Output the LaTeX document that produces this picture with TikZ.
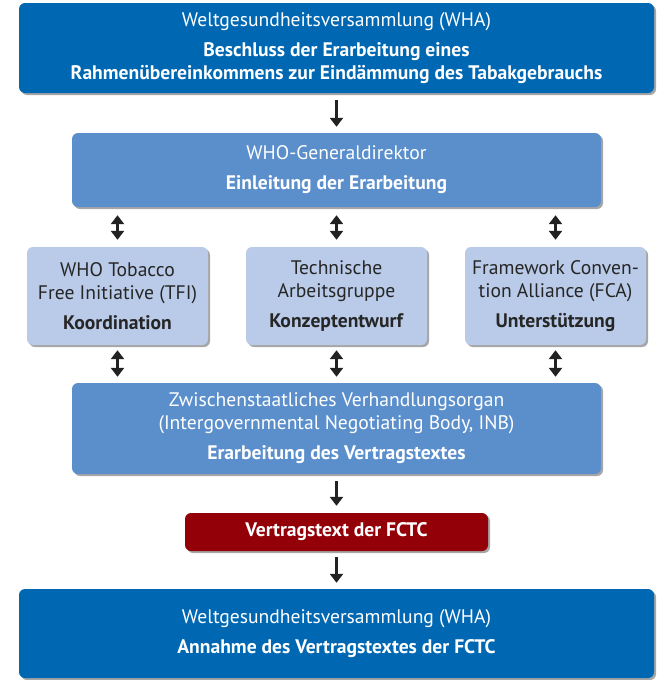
\documentclass[tikz,border=0pt]{standalone}
\usepackage{fontspec}
\setmainfont{PT Sans}
\usetikzlibrary{arrows.meta, shadows}

\definecolor{whablue}{RGB}{0,104,179}
\definecolor{midblue}{RGB}{91,143,204}
\definecolor{paleblue}{RGB}{185,203,232}
\definecolor{fctcred}{RGB}{148,0,8}
\definecolor{arrowgray}{RGB}{34,34,34}

\begin{document}
\begin{tikzpicture}[x=1pt, y=-1pt, >={Triangle[width=13pt,length=9pt]},
  box/.style={rounded corners=6pt, align=center, inner sep=0pt,
    font=\fontsize{19.6}{23}\selectfont,
    drop shadow={shadow xshift=2pt, shadow yshift=-2pt, opacity=0.35, fill=black}},
  darkbox/.style={box, fill=whablue, text=white},
  midbox/.style={box, fill=midblue, text=white},
  palebox/.style={box, fill=paleblue, text=black!85},
  redbox/.style={box, fill=fctcred, text=white},
  flow/.style={->, line width=3.5pt, draw=arrowgray},
  both/.style={<->, line width=3.5pt, draw=arrowgray}]
  \useasboundingbox (0,0) rectangle (665,680);
  % boxes, top to bottom
  \node[darkbox, minimum width=635pt, minimum height=90pt] (wha) at (336.5,48)
    {Weltgesundheitsversammlung (WHA)\\[7pt]
     \textbf{Beschluss der Erarbeitung eines}\\
     \textbf{Rahmenübereinkommens zur Eindämmung des Tabakgebrauchs}};
  \node[midbox, minimum width=529pt, minimum height=74pt] (gd) at (336.5,170)
    {WHO-Generaldirektor\\[7pt] \textbf{Einleitung der Erarbeitung}};
  \node[palebox, minimum width=181pt, minimum height=98pt] (tfi) at (117.5,296)
    {WHO Tobacco\\ Free Initiative (TFI)\\[7pt] \textbf{Koordination}};
  \node[palebox, minimum width=181pt, minimum height=98pt] (tag) at (336.5,296)
    {Technische\\ Arbeitsgruppe\\[7pt] \textbf{Konzeptentwurf}};
  \node[palebox, minimum width=181pt, minimum height=98pt] (fca) at (555.5,296)
    {Framework Conven-\\ tion Alliance (FCA)\\[7pt] \textbf{Unterstützung}};
  \node[midbox, minimum width=529pt, minimum height=91pt] (inb) at (336.5,428.5)
    {Zwischenstaatliches Verhandlungsorgan\\
     (Intergovernmental Negotiating Body, INB)\\[7pt]
     \textbf{Erarbeitung des Vertragstextes}};
  \node[redbox, minimum width=303pt, minimum height=38pt] (fctc) at (336.5,532)
    {\textbf{Vertragstext der FCTC}};
  \node[darkbox, minimum width=635pt, minimum height=89pt] (whab) at (336.5,633.5)
    {Weltgesundheitsversammlung (WHA)\\[7pt]
     \textbf{Annahme des Vertragstextes der FCTC}};
  % connectors
  \draw[flow, shorten <=7pt, shorten >=6pt] (wha) -- (gd);
  \foreach \b in {tfi, tag, fca} {
    \draw[both, shorten <=8pt, shorten >=7pt] (gd.south -| \b.north) -- (\b.north);
    \draw[both, shorten <=5pt, shorten >=6pt] (\b.south) -- (inb.north -| \b.south);
  }
  \draw[flow, shorten <=7pt, shorten >=7pt] (inb) -- (fctc);
  \draw[flow, shorten <=6pt, shorten >=6pt] (fctc) -- (whab);
\end{tikzpicture}
\end{document}
